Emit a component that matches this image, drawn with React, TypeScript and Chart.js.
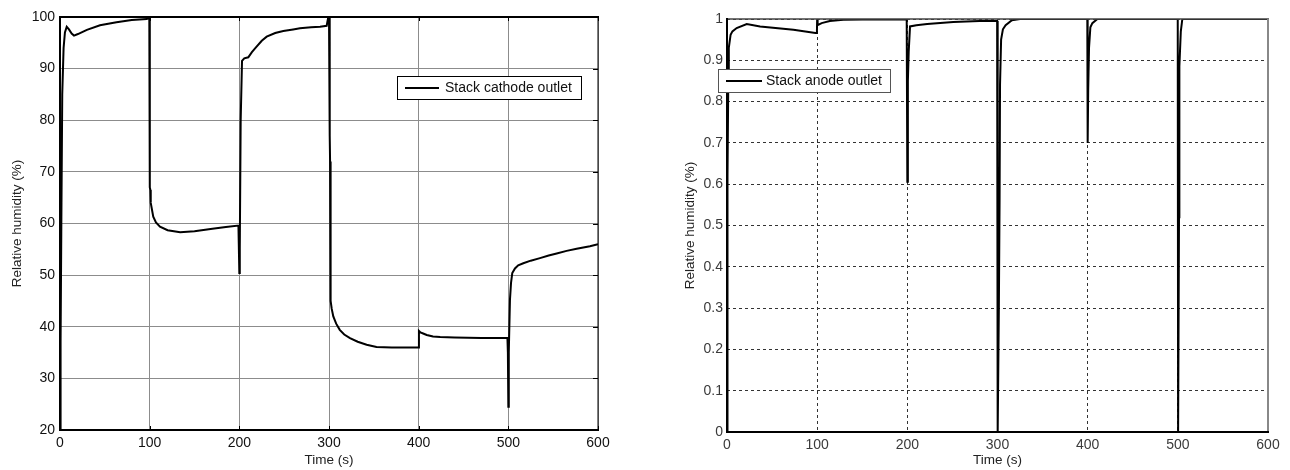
import React, { useEffect, useRef } from 'react';
import { Chart, registerables } from 'chart.js';
Chart.register(...registerables);

// ---- Data: stack cathode outlet (left) ----
const cathodeTime = [0, 0.3, 1, 1.5, 2.5, 4, 5.5, 7.5, 10, 13, 15.6, 20, 30, 44.6, 63, 80, 96.7, 99.6, 100, 100.3, 100.8, 101.2, 104, 107, 111.5, 120, 134, 150, 170, 185, 199, 199.6, 200, 200.5, 201.5, 203, 205.5, 210, 214, 219, 225, 230.5, 240, 249, 260, 267.6, 280, 290, 297.4, 299.2, 300, 300.8, 301.2, 301.8, 303, 304.8, 308, 312, 317, 323.4, 332, 342, 353, 370, 399.6, 400.3, 402, 405, 409, 416, 424, 440, 470, 499, 499.5, 500, 500.5, 501.8, 503, 504.4, 507.4, 511, 516.7, 525, 535.3, 545, 553.9, 565, 576.2, 591, 600];
const cathodeRH = [20, 33, 37, 60, 85, 94, 97, 98.1, 97.6, 96.8, 96.4, 96.7, 97.5, 98.4, 99.0, 99.4, 99.6, 99.8, 99.8, 67, 66.5, 64, 61.3, 60.2, 59.4, 58.7, 58.3, 58.5, 59, 59.3, 59.6, 59.6, 50.4, 55, 80, 91.5, 92, 92.2, 93.2, 94.2, 95.4, 96.2, 96.9, 97.3, 97.6, 97.8, 98.0, 98.1, 98.3, 100, 100, 77, 72, 45, 43.5, 42, 40.6, 39.4, 38.5, 37.8, 37.1, 36.5, 36.1, 36.0, 36.0, 39.2, 38.9, 38.7, 38.4, 38.1, 38.0, 37.9, 37.8, 37.8, 35, 24.5, 35, 45.2, 48.5, 50.4, 51.3, 51.9, 52.3, 52.8, 53.3, 53.8, 54.2, 54.7, 55.1, 55.6, 56.0];

// ---- Data: stack anode outlet (right) ----
const anodeTime = [0, 0.3, 0.8, 1.5, 2, 4, 6, 10.7, 21.9, 36.7, 73.7, 98.1, 99.7, 100, 100.5, 105, 114, 129, 150, 199.3, 199.6, 200, 200.6, 201.5, 203, 210, 222, 251, 280, 299.6, 300.2, 301.5, 302.3, 302.8, 304, 306, 309, 316, 325, 399.6, 400, 400.6, 401.5, 403, 405.2, 410.8, 499.9, 500.3, 501.3, 501.7, 503.3, 505, 600];
const anodeRH = [0, 0.37, 0.62, 0.87, 0.93, 0.962, 0.97, 0.978, 0.988, 0.982, 0.974, 0.966, 0.966, 1.0, 0.985, 0.99, 0.995, 0.998, 0.999, 0.999, 0.999, 0.606, 0.85, 0.92, 0.982, 0.985, 0.988, 0.993, 0.995, 0.995, 0.0, 0.3, 0.56, 0.84, 0.95, 0.975, 0.985, 0.997, 1.0, 1.0, 0.70, 0.83, 0.93, 0.98, 0.99, 1.0, 1.0, 0.0, 0.52, 0.885, 0.97, 1.0, 1.0];

// ---- Ticks ----
const timeTicks = [0, 100, 200, 300, 400, 500, 600];
const timeLabels = ['0', '100', '200', '300', '400', '500', '600'];
const cathodeYTicks = [20, 30, 40, 50, 60, 70, 80, 90, 100];
const cathodeYLabels = ['20', '30', '40', '50', '60', '70', '80', '90', '100'];
const anodeYTicks = [0, 0.1, 0.2, 0.3, 0.4, 0.5, 0.6, 0.7, 0.8, 0.9, 1];
const anodeYLabels = ['0', '0.1', '0.2', '0.3', '0.4', '0.5', '0.6', '0.7', '0.8', '0.9', '1'];

const FONT = '"Liberation Sans", Arial, Helvetica, sans-serif';

const framePlugin = {
  id: 'frame',
  afterDatasetsDraw(chart: any, _args: any, opts: any) {
    const { ctx, chartArea } = chart;
    const { left, top, right, bottom } = chartArea;
    ctx.save();
    // inner tick marks
    if (opts.innerTicks) {
      ctx.strokeStyle = '#000';
      ctx.lineWidth = 1;
      const xs = chart.scales.x;
      const ys = chart.scales.y;
      ctx.beginPath();
      for (const v of opts.xTicks) {
        const px = Math.round(xs.getPixelForValue(v)) + 0.5;
        ctx.moveTo(px, top); ctx.lineTo(px, top + 4);
        ctx.moveTo(px, bottom); ctx.lineTo(px, bottom - 4);
      }
      for (const v of opts.yTicks) {
        const py = Math.round(ys.getPixelForValue(v)) + 0.5;
        ctx.moveTo(right, py); ctx.lineTo(right - 5, py);
      }
      ctx.stroke();
    }
    const side = (c: string, w: number, x1: number, y1: number, x2: number, y2: number) => {
      ctx.strokeStyle = c; ctx.lineWidth = w; ctx.setLineDash([]);
      ctx.beginPath(); ctx.moveTo(x1, y1); ctx.lineTo(x2, y2); ctx.stroke();
    };
    side(opts.topColor, opts.topWidth, left - 1, top, right + 1, top);
    side(opts.rightColor, opts.rightWidth, right, top, right, bottom + 1);
    side('#000', 2, left, top - 1, left, bottom + 1);
    side('#000', 2, left - 1, bottom, right + 1, bottom);

    // legend
    const lg = opts.legend;
    const bx = left + lg.dx, by = top + lg.dy;
    ctx.fillStyle = '#fff';
    ctx.fillRect(bx, by, lg.w, lg.h);
    ctx.strokeStyle = lg.border; ctx.lineWidth = 1;
    ctx.strokeRect(bx + 0.5, by + 0.5, lg.w, lg.h);
    const cy = by + lg.h / 2 + 0.5;
    side('#000', 2, bx + lg.l1, cy, bx + lg.l2, cy);
    ctx.fillStyle = '#111';
    ctx.font = '14px ' + FONT;
    ctx.textBaseline = 'middle';
    ctx.textAlign = 'left';
    ctx.fillText(lg.text, bx + lg.tx, cy + 0.5);
    ctx.restore();
  },
};

function makeConfig(p: any) {
  const setTicks = (vals: number[]) => (scale: any) => {
    scale.ticks = vals.map((v) => ({ value: v }));
  };
  return {
    type: 'line',
    data: {
      datasets: [{
        data: p.t.map((x: number, i: number) => ({ x, y: p.v[i] })),
        borderColor: '#000',
        borderWidth: 2,
        pointRadius: 0,
        tension: 0,
        fill: false,
      }],
    },
    options: {
      responsive: false,
      animation: false,
      events: [],
      layout: { padding: { left: 0, right: p.padRight, top: p.padTop, bottom: 0 } },
      plugins: {
        legend: { display: false },
        tooltip: { enabled: false },
        frame: p.frame,
      },
      scales: {
        x: {
          type: 'linear',
          min: 0, max: 600,
          afterBuildTicks: setTicks(timeTicks),
          afterFit: (s: any) => { s.height = p.xH; },
          grid: { color: p.gridColor, lineWidth: 1, drawTicks: false },
          border: { display: false, dash: p.xDash },
          ticks: {
            padding: 5, autoSkip: false, maxRotation: 0,
            color: p.tickColor, font: { family: FONT, size: 14 },
            callback: (_v: any, i: number) => timeLabels[i],
          },
          title: {
            display: true, text: 'Time (s)', color: '#222',
            font: { family: FONT, size: 13.5 }, padding: { top: 0, bottom: 2 },
          },
        },
        y: {
          type: 'linear',
          min: p.yMin, max: p.yMax,
          afterBuildTicks: setTicks(p.yTicks),
          afterFit: (s: any) => { s.width = p.yW; },
          grid: { color: p.gridColor, lineWidth: 1, drawTicks: false },
          border: { display: false, dash: p.yDash },
          ticks: {
            padding: p.yPad, autoSkip: false,
            color: p.tickColor, font: { family: FONT, size: 14 },
            callback: (_v: any, i: number) => p.yLabels[i],
          },
          title: {
            display: true, text: 'Relative humidity (%)', color: '#222',
            font: { family: FONT, size: 13.5 }, padding: { top: p.yTitlePad, bottom: 0 },
          },
        },
      },
    },
    plugins: [framePlugin],
  };
}

function Panel({ cfg, left, width }: { cfg: any; left: number; width: number }) {
  const ref = useRef<HTMLCanvasElement | null>(null);
  useEffect(() => {
    if (!ref.current) return;
    const chart = new Chart(ref.current, makeConfig(cfg) as any);
    return () => chart.destroy();
  }, []);
  return (
    <canvas
      ref={ref}
      width={width}
      height={470}
      style={{ position: 'absolute', left, top: 0, width, height: 470 }}
    />
  );
}

const leftCfg = {
  t: cathodeTime, v: cathodeRH,
  yMin: 20, yMax: 100, yTicks: cathodeYTicks, yLabels: cathodeYLabels,
  padRight: 42, padTop: 17, xH: 40, yW: 60, yPad: 5, yTitlePad: 9.4,
  gridColor: '#8c8c8c', xDash: [], yDash: [], tickColor: '#111',
  frame: {
    innerTicks: true, xTicks: timeTicks, yTicks: cathodeYTicks,
    topColor: '#000', topWidth: 2, rightColor: '#000', rightWidth: 1,
    legend: { dx: 337, dy: 59, w: 184, h: 23, l1: 8, l2: 42, tx: 48, text: 'Stack cathode outlet', border: '#000' },
  },
};

const rightCfg = {
  t: anodeTime, v: anodeRH,
  yMin: 0, yMax: 1, yTicks: anodeYTicks, yLabels: anodeYLabels,
  padRight: 22, padTop: 19, xH: 38, yW: 77, yPad: 4, yTitlePad: 32,
  gridColor: '#333', xDash: [3, 3], yDash: [3, 3], tickColor: '#3a3a3a',
  frame: {
    innerTicks: false, xTicks: timeTicks, yTicks: anodeYTicks,
    topColor: '#444', topWidth: 1.5, rightColor: '#888', rightWidth: 2,
    legend: { dx: -9, dy: 50, w: 172, h: 23, l1: 8, l2: 44, tx: 48, text: 'Stack anode outlet', border: '#555' },
  },
};

export default function App() {
  return (
    <div style={{ position: 'absolute', left: 0, top: 0, width: 1290, height: 470, background: '#fff', overflow: 'hidden' }}>
      <Panel cfg={leftCfg} left={0} width={640} />
      <Panel cfg={rightCfg} left={650} width={640} />
    </div>
  );
}
